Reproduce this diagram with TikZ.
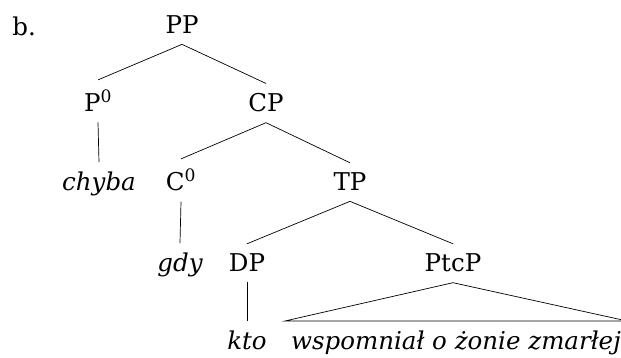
\documentclass[tikz,border=0pt]{standalone}
\usepackage{fontspec}
\setmainfont{DejaVu Serif}
\tikzset{
    cat/.style={inner sep=10pt, anchor=base, font=\fontsize{24.5}{29}\selectfont},
    word/.style={cat, font=\fontsize{24.5}{29}\selectfont\itshape}
}
\begin{document}
\begin{tikzpicture}[x=1pt,y=1pt,line width=0.7pt]
\useasboundingbox (0,0) rectangle (621,358);
\node[cat, inner sep=0pt, anchor=base west] (ex) at (12,322) {b.};
\foreach \n/\x/\y/\t in {pp/182/324/PP, p0/98/246/{P\textsuperscript{0}}, cp/266/246/CP,
    c0/181/167/{C\textsuperscript{0}}, tp/350/167/TP, dp/247/86/DP, ptcp/453/86/PtcP} {
    \node[cat] (\n) at (\x,\y) {\t};
}
\foreach \n/\x/\y/\t in {chyba/99/167/chyba, gdy/180/86/gdy, kto/247/8/kto} {
    \node[word] (\n) at (\x,\y) {\t};
}
\node[word, inner xsep=6pt] (vp) at (456,8) {wspomniał o żonie zmarłej};
\foreach \a/\b in {pp/p0, pp/cp, p0/chyba, cp/c0, cp/tp, c0/gdy, tp/dp, tp/ptcp, dp/kto} {
    \draw (\a.south) -- (\b.north);
}
\draw (ptcp.south) -- (vp.north west) -- (vp.north east) -- cycle;
\end{tikzpicture}
\end{document}
